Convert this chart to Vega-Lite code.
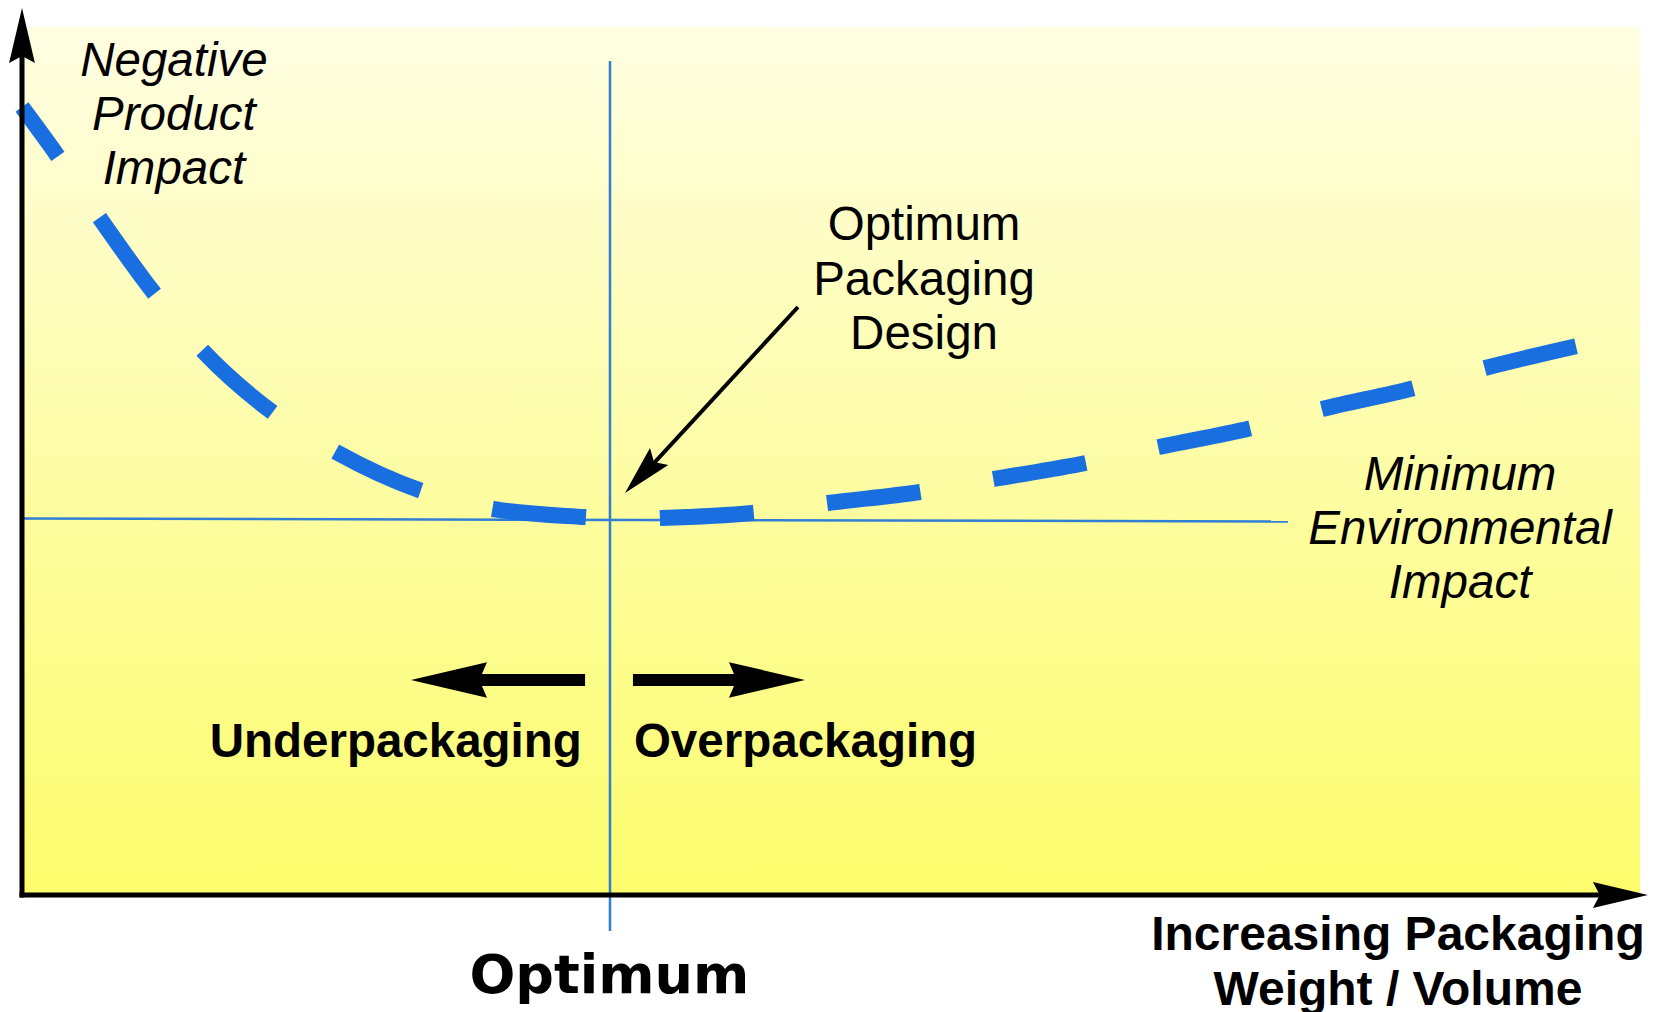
{
  "$schema": "https://vega.github.io/schema/vega-lite/v6.json",
  "width": 1618,
  "height": 868,
  "autosize": {"type": "none"},
  "padding": {"left": 22, "top": 27, "right": 16, "bottom": 117},
  "background": "#ffffff",
  "config": {"view": {"stroke": null}},
  "encoding": {
    "x": {"field": "x", "type": "quantitative", "scale": {"domain": [0, 100], "nice": false, "zero": false}, "axis": null},
    "y": {"field": "y", "type": "quantitative", "scale": {"domain": [0, 100], "nice": false, "zero": false}, "axis": null}
  },
  "layer": [
    {
      "data": {"values": [{"x": 0, "y": 0, "x2": 100, "y2": 100}]},
      "mark": {"type": "rect", "strokeWidth": 0, "fill": {"gradient": "linear", "x1": 0, "y1": 0, "x2": 0, "y2": 1, "stops": [{"offset": 0, "color": "#fffee2"}, {"offset": 1, "color": "#fcfc6c"}]}},
      "encoding": {"x2": {"field": "x2"}, "y2": {"field": "y2"}}
    },
    {
      "data": {"values": [{"x": 36.34, "y": 96.08, "x2": 36.34, "y2": -4.15}, {"x": 0, "y": 43.38, "x2": 78.24, "y2": 43.03}]},
      "mark": {"type": "rule", "color": "#2f7fd4", "strokeWidth": 2.5},
      "encoding": {"x2": {"field": "x2"}, "y2": {"field": "y2"}}
    },
    {
      "data": {"values": [
        {"x": 0, "y": 90.78}, {"x": 2.163, "y": 85.25}, {"x": 4.759, "y": 78.11}, {"x": 8.158, "y": 69.35},
        {"x": 11.063, "y": 62.9}, {"x": 15.451, "y": 55.65}, {"x": 19.407, "y": 51.04}, {"x": 24.722, "y": 46.54},
        {"x": 29.11, "y": 44.47}, {"x": 34.796, "y": 43.55}, {"x": 37.114, "y": 43.32}, {"x": 39.493, "y": 43.43},
        {"x": 45.117, "y": 44.01}, {"x": 49.815, "y": 45.16}, {"x": 55.501, "y": 46.43}, {"x": 60.074, "y": 47.93},
        {"x": 65.76, "y": 49.77}, {"x": 70.272, "y": 51.61}, {"x": 75.958, "y": 53.8}, {"x": 80.346, "y": 55.99},
        {"x": 86.032, "y": 58.41}, {"x": 90.42, "y": 60.71}, {"x": 96.106, "y": 63.25}
      ]},
      "mark": {"type": "line", "color": "#1a6fe0", "strokeWidth": 16, "strokeDash": [94, 74], "strokeDashOffset": 33, "interpolate": "monotone", "strokeCap": "butt"},
      "encoding": {}
    },
    {
      "data": {"values": [{"x": 0, "y": -0.29, "x2": 0, "y2": 97.5}, {"x": -0.155, "y": 0, "x2": 98, "y2": 0}]},
      "mark": {"type": "rule", "color": "#000000", "strokeWidth": 5},
      "encoding": {"x2": {"field": "x2"}, "y2": {"field": "y2"}}
    },
    {
      "data": {"values": [{"x": 0, "y": 102.19}]},
      "mark": {"type": "point", "shape": "M0,0L0.47,2L0,1.75L-0.47,2Z", "size": 3025, "filled": true, "color": "#000000", "opacity": 1, "strokeWidth": 0, "angle": 0}
    },
    {
      "data": {"values": [{"x": 100.49, "y": 0}]},
      "mark": {"type": "point", "shape": "M0,0L0.47,2L0,1.75L-0.47,2Z", "size": 3025, "filled": true, "color": "#000000", "opacity": 1, "strokeWidth": 0, "angle": 90}
    },
    {
      "data": {"values": [{"x": 47.96, "y": 67.74, "x2": 39.0, "y2": 49.65}]},
      "mark": {"type": "rule", "color": "#000000", "strokeWidth": 4},
      "encoding": {"x2": {"field": "x2"}, "y2": {"field": "y2"}}
    },
    {
      "data": {"values": [{"x": 37.27, "y": 46.31}]},
      "mark": {"type": "point", "shape": "M0,0L0.5,2L0,1.7L-0.5,2Z", "size": 2500, "filled": true, "color": "#000000", "opacity": 1, "strokeWidth": 0, "angle": 223}
    },
    {
      "data": {"values": [{"x": 34.8, "y": 24.77, "x2": 28.18, "y2": 24.77}, {"x": 37.76, "y": 24.77, "x2": 44.38, "y2": 24.77}]},
      "mark": {"type": "rule", "color": "#000000", "strokeWidth": 12},
      "encoding": {"x2": {"field": "x2"}, "y2": {"field": "y2"}}
    },
    {
      "data": {"values": [{"x": 24.04, "y": 24.77}]},
      "mark": {"type": "point", "shape": "M0,0L0.47,2L0,1.8L-0.47,2Z", "size": 5776, "filled": true, "color": "#000000", "opacity": 1, "strokeWidth": 0, "angle": 270}
    },
    {
      "data": {"values": [{"x": 48.39, "y": 24.77}]},
      "mark": {"type": "point", "shape": "M0,0L0.47,2L0,1.8L-0.47,2Z", "size": 5776, "filled": true, "color": "#000000", "opacity": 1, "strokeWidth": 0, "angle": 90}
    },
    {
      "data": {"values": [
        {"label": "Negative", "x": 9.39, "y": 94.35}, {"label": "Product", "x": 9.39, "y": 88.13}, {"label": "Impact", "x": 9.39, "y": 81.91},
        {"label": "Minimum", "x": 88.88, "y": 46.66}, {"label": "Environmental", "x": 88.88, "y": 40.44}, {"label": "Impact", "x": 88.88, "y": 34.22}
      ]},
      "mark": {"type": "text", "font": "Liberation Sans", "fontStyle": "italic", "fontSize": 47.5, "align": "center", "baseline": "alphabetic", "color": "#000000"},
      "encoding": {"text": {"field": "label"}}
    },
    {
      "data": {"values": [
        {"label": "Optimum", "x": 55.75, "y": 75.46}, {"label": "Packaging", "x": 55.75, "y": 69.12}, {"label": "Design", "x": 55.75, "y": 62.9}
      ]},
      "mark": {"type": "text", "font": "Liberation Sans", "fontSize": 47.5, "align": "center", "baseline": "alphabetic", "color": "#000000"},
      "encoding": {"text": {"field": "label"}}
    },
    {
      "data": {"values": [{"label": "Underpackaging", "x": 34.6, "y": 15.9}]},
      "mark": {"type": "text", "font": "Liberation Sans", "fontWeight": "bold", "fontSize": 47.5, "align": "right", "baseline": "alphabetic", "color": "#000000"},
      "encoding": {"text": {"field": "label"}}
    },
    {
      "data": {"values": [{"label": "Overpackaging", "x": 37.82, "y": 15.9}]},
      "mark": {"type": "text", "font": "Liberation Sans", "fontWeight": "bold", "fontSize": 47.5, "align": "left", "baseline": "alphabetic", "color": "#000000"},
      "encoding": {"text": {"field": "label"}}
    },
    {
      "data": {"values": [{"label": "Increasing Packaging", "x": 85.04, "y": -6.34}, {"label": "Weight / Volume", "x": 85.04, "y": -12.67}]},
      "mark": {"type": "text", "font": "Liberation Sans", "fontWeight": "bold", "fontSize": 48, "align": "center", "baseline": "alphabetic", "color": "#000000"},
      "encoding": {"text": {"field": "label"}}
    },
    {
      "data": {"values": [{"label": "Optimum", "x": 36.3, "y": -11.29}]},
      "mark": {"type": "text", "font": "DejaVu Sans", "fontWeight": "bold", "fontSize": 54, "align": "center", "baseline": "alphabetic", "color": "#000000"},
      "encoding": {"text": {"field": "label"}}
    }
  ]
}
